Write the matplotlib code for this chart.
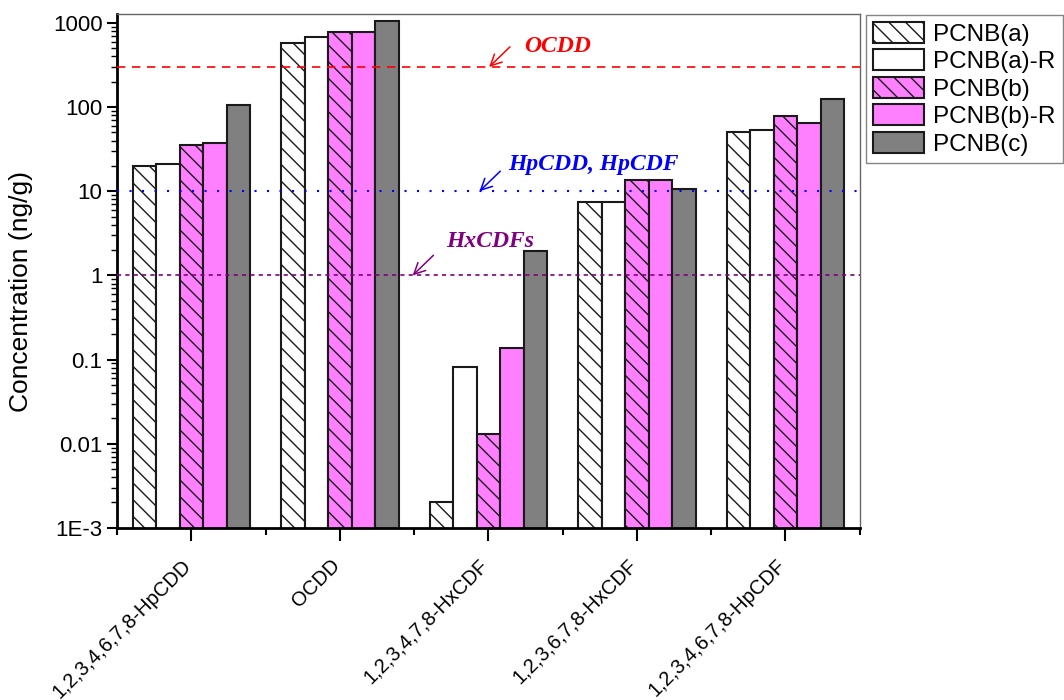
import numpy as np
import matplotlib
matplotlib.use('Agg')
from matplotlib import pyplot as plt
from matplotlib.patches import Patch
from matplotlib.transforms import ScaledTranslation

plt.rcParams['font.family'] = ['Liberation Sans', 'DejaVu Sans']
plt.rcParams['hatch.linewidth'] = 1.0

compounds = ['1,2,3,4,6,7,8-HpCDD', 'OCDD', '1,2,3,4,7,8-HxCDF',
             '1,2,3,6,7,8-HxCDF', '1,2,3,4,6,7,8-HpCDF']
series = ['PCNB(a)', 'PCNB(a)-R', 'PCNB(b)', 'PCNB(b)-R', 'PCNB(c)']

pcnb_a = [20, 575, 0.002, 7.5, 50]
pcnb_a_r = [21, 690, 0.082, 7.4, 54]
pcnb_b = [35.5, 785, 0.013, 13.6, 79]
pcnb_b_r = [37.5, 785, 0.139, 13.6, 65]
pcnb_c = [107, 1065, 1.95, 10.7, 125]

# reference levels (ng/g)
ref_names = ['OCDD', 'HpCDD, HpCDF', 'HxCDFs']
ref_levels = [300, 10, 1]

ytick_vals = [1e-3, 0.01, 0.1, 1, 10, 100, 1000]
ytick_labels = ['1E-3', '0.01', '0.1', '1', '10', '100', '1000']

fills = ['white', 'white', '#ff80ff', '#ff80ff', '#808080']
hatches = ['\\\\', None, '\\\\', None, None]

fig = plt.figure(figsize=(10.64, 7.0), dpi=100)
ax = fig.add_axes([0.110, 0.246, 0.698, 0.734])

x = np.arange(1, len(compounds) + 1)
width = 0.158
all_vals = [pcnb_a, pcnb_a_r, pcnb_b, pcnb_b_r, pcnb_c]
for i, vals in enumerate(all_vals):
    ax.bar(x + (i - 2) * width, vals, width, color=fills[i],
           edgecolor='#1a1a1a', linewidth=1.5, hatch=hatches[i], zorder=2)

ax.set_yscale('log')
ax.set_ylim(1e-3, 1280)
ax.set_xlim(0.5, 5.5)

ax.axhline(ref_levels[0], color='red', linestyle=(0, (5, 4)), linewidth=1.2, zorder=3)
ax.axhline(ref_levels[1], color='blue', linestyle=(0, (1, 5)), linewidth=1.5, zorder=3)
ax.axhline(ref_levels[2], color='#800080', linestyle=(0, (2.5, 2.5)), linewidth=1.2, zorder=3)

ann_colors = ['red', 'blue', '#800080']
head_x = [3.005, 2.94, 2.49]
text_off = [(25, 14.5), (21, 19.5), (24.5, 24.5)]
for name, lvl, col, hx, off in zip(ref_names, ref_levels, ann_colors, head_x, text_off):
    ax.annotate('', xy=(hx, lvl), xytext=(15, 14.5), textcoords='offset points',
                arrowprops=dict(arrowstyle='->', color=col, lw=1.1, mutation_scale=20,
                                shrinkA=0, shrinkB=0), zorder=4)
    ax.annotate(name, xy=(hx, lvl), xytext=off, textcoords='offset points',
                color=col, fontsize=17, fontweight='bold', fontstyle='italic',
                family=['Liberation Serif', 'DejaVu Serif'], va='center', ha='left')

ax.set_yticks(ytick_vals)
ax.set_yticklabels(ytick_labels, fontsize=16)
ax.yaxis.set_minor_locator(matplotlib.ticker.LogLocator(base=10, subs=np.arange(2, 10)))
ax.yaxis.set_minor_formatter(matplotlib.ticker.NullFormatter())
ax.tick_params(axis='y', which='major', direction='out', length=7, width=1.5)
ax.tick_params(axis='y', which='minor', direction='out', length=4, width=1.0)

ax.set_xticks(x)
ax.set_xticks(np.arange(0.5, 5.6, 1.0), minor=True)
ax.set_xticklabels(compounds, rotation=45, ha='right', va='center',
                   rotation_mode='anchor', fontsize=14.5)
ax.tick_params(axis='x', which='major', direction='out', length=9, width=1.5, pad=16)
ax.tick_params(axis='x', which='minor', direction='out', length=5, width=1.5)
shift = ScaledTranslation(-3 / 100, 0, fig.dpi_scale_trans)
for lab in ax.get_xticklabels():
    lab.set_transform(lab.get_transform() + shift)

ax.set_ylabel('Concentration (ng/g)', fontsize=19)
ax.yaxis.set_label_coords(-0.113, 0.459)

for side in ['left', 'bottom']:
    ax.spines[side].set_linewidth(2)
    ax.spines[side].set_color('black')
for side in ['top', 'right']:
    ax.spines[side].set_linewidth(1.0)
    ax.spines[side].set_color('#666666')

handles = [Patch(facecolor=fills[i], edgecolor='#1a1a1a', linewidth=1.5,
                 hatch=hatches[i], label=series[i]) for i in range(len(series))]
leg = fig.legend(handles=handles, loc='upper left', bbox_to_anchor=(0.814, 0.979),
                 fontsize=17.5, frameon=True, fancybox=False, edgecolor='#666666',
                 handlelength=2.1, handleheight=0.95, labelspacing=0.15,
                 handletextpad=0.35, borderpad=0.3, borderaxespad=0)
leg.get_frame().set_linewidth(1.0)

fig.savefig('out.png', dpi=100)
